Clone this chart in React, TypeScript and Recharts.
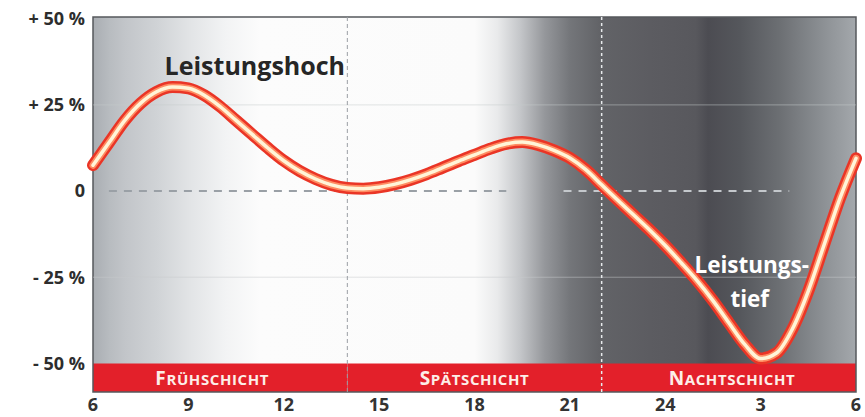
import React from 'react';
import { LineChart, Line, XAxis, YAxis, CartesianGrid, ReferenceArea, ReferenceLine, ReferenceDot } from 'recharts';

// ---- data ----
const hours = [0,0.5,1,1.5,2,2.5,3,3.5,4,4.5,5,5.5,6,6.5,7,7.5,8,8.5,9,9.5,10,10.5,11,11.5,12,12.5,13,13.5,14,14.5,15,15.5,16,16.5,17,17.5,18,18.5,19,19.5,20,20.5,21,21.5,22,22.5,23,23.5,24];
const performance = [7.5,14,20.5,25.5,28.8,30.2,29.8,27.8,24.5,20.5,16.5,12.5,8.8,5.8,3.5,1.8,0.9,0.7,1.1,2,3.3,4.9,6.8,8.7,10.5,12.3,13.7,14.2,13.4,11.8,9.6,6.2,1.8,-2.6,-6.9,-11.2,-15.8,-20.8,-26,-31.8,-38.2,-44.5,-48.6,-47,-40,-29,-15.5,-2,9.5];

const xTicks = [0,3,6,9,12,15,18,21,24];
const xTickLabels = ['6','9','12','15','18','21','24','3','6'];
const yTicks = [-50,-25,0,25,50];
const yTickLabels = ['- 50 %','- 25 %','0','+ 25 %','+ 50 %'];

const shiftNames = ['Frühschicht','Spätschicht','Nachtschicht'];
const shiftStart = [0,8,16];
const shiftEnd = [8,16,24];
const shiftLabelAt = [3.75,12,20.1];

const Y_MIN = -58.3;
const Y_MAX = 50.5;

const data = hours.map((h, i) => ({ h, v: performance[i] }));

const FONT = '"Open Sans", "Noto Sans", sans-serif';

const XTick = (props: any) => {
  const { x, payload } = props;
  return (
    <text x={x} y={411} textAnchor="middle" fontFamily={FONT} fontWeight={700} fontSize={18} fill="#333">
      {xTickLabels[xTicks.indexOf(payload.value)]}
    </text>
  );
};

export default function App() {
  const plotLeft = 93;
  const plotRight = 856;
  const pxPerHour = (plotRight - plotLeft) / 24;
  return (
    <div style={{ position: 'fixed', left: 0, top: 0, width: 865, height: 417, background: '#fff' }}>
      <svg width={0} height={0} style={{ position: 'absolute' }}>
        <defs>
          <linearGradient id="bgGrad" x1="0" y1="0" x2="1" y2="0">
            <stop offset="0" stopColor="#a9adb2" />
            <stop offset="0.022" stopColor="#b8bcc0" />
            <stop offset="0.042" stopColor="#c2c5c9" />
            <stop offset="0.084" stopColor="#d0d3d6" />
            <stop offset="0.127" stopColor="#e2e4e6" />
            <stop offset="0.173" stopColor="#f2f3f4" />
            <stop offset="0.219" stopColor="#fcfcfc" />
            <stop offset="0.5" stopColor="#fbfbfb" />
            <stop offset="0.53" stopColor="#e9eaeb" />
            <stop offset="0.56" stopColor="#c4c6c9" />
            <stop offset="0.592" stopColor="#95979b" />
            <stop offset="0.625" stopColor="#74767a" />
            <stop offset="0.664" stopColor="#626367" />
            <stop offset="0.73" stopColor="#5c5c61" />
            <stop offset="0.79" stopColor="#58585d" />
            <stop offset="0.806" stopColor="#4c4c52" />
            <stop offset="0.848" stopColor="#55575c" />
            <stop offset="0.9" stopColor="#6c6f73" />
            <stop offset="0.953" stopColor="#8a8e92" />
            <stop offset="1" stopColor="#a4a8ac" />
          </linearGradient>
        </defs>
      </svg>
      <LineChart width={865} height={417} data={data} margin={{ top: 17, right: 9, bottom: 0, left: 0 }}>
        <XAxis
          dataKey="h"
          type="number"
          domain={[0, 24]}
          ticks={xTicks}
          axisLine={false}
          tickLine={false}
          height={25}
          tick={<XTick />}
          interval={0}
        />
        <YAxis
          type="number"
          domain={[Y_MIN, Y_MAX]}
          ticks={yTicks}
          tickFormatter={(v: number) => yTickLabels[yTicks.indexOf(v)]}
          axisLine={false}
          tickLine={false}
          width={93}
          tick={{ fontSize: 18, fontWeight: 700, fill: '#2d2d2d', fontFamily: FONT }}
          interval={0}
        />
        <ReferenceArea x1={0} x2={24} y1={Y_MIN} y2={Y_MAX} fill="url(#bgGrad)" fillOpacity={1} stroke="none" />
        <CartesianGrid horizontal={false} vertical stroke="#b4b8bc" strokeOpacity={0.55} verticalPoints={hours.filter((h) => Number.isInteger(h) && h > 0 && h < 24).map((h) => plotLeft + h * pxPerHour)} />
        <ReferenceLine y={25} stroke="#c8cbce" strokeOpacity={0.5} />
        <ReferenceLine y={-25} stroke="#c8cbce" strokeOpacity={0.5} />
        <ReferenceLine segment={[{ x: 0.5, y: 0 }, { x: 13, y: 0 }]} stroke="#9aa0a6" strokeWidth={2} strokeDasharray="8 7" />
        <ReferenceLine segment={[{ x: 14.8, y: 0 }, { x: 21.9, y: 0 }]} stroke="#c4c8cc" strokeWidth={2} strokeDasharray="8 7" />
        {shiftNames.map((name, i) => (
          <ReferenceArea
            key={name}
            x1={shiftStart[i]}
            x2={shiftEnd[i]}
            y1={Y_MIN}
            y2={-50}
            fill="#e3202a"
            fillOpacity={1}
            stroke="none"
            label={(p: any) => {
              const vb = p.viewBox || {};
              const up = name.toUpperCase();
              return (
                <text
                  x={plotLeft + shiftLabelAt[i] * pxPerHour}
                  y={(vb.y || 0) + (vb.height || 0) - 7}
                  textAnchor="middle"
                  fill="#fdeee8"
                  fontFamily={FONT}
                  fontWeight={700}
                  letterSpacing={0.6}
                >
                  <tspan fontSize={19}>{up[0]}</tspan>
                  <tspan fontSize={15}>{up.slice(1)}</tspan>
                </text>
              );
            }}
          />
        ))}
        <ReferenceLine x={8} stroke="#9a9ea4" strokeWidth={1} strokeDasharray="4 3" />
        <ReferenceLine x={16} stroke="#e8eaec" strokeWidth={1.5} strokeDasharray="3 3" />
        <ReferenceArea x1={0} x2={24} y1={Y_MIN} y2={Y_MAX} fill="none" stroke="#55585c" strokeWidth={1.5} />
        <Line type="monotone" dataKey="v" stroke="#ea3526" strokeWidth={12} dot={false} isAnimationActive={false} strokeLinecap="round" />
        <Line type="monotone" dataKey="v" stroke="#ff8c62" strokeWidth={7} dot={false} isAnimationActive={false} strokeLinecap="round" />
        <Line type="monotone" dataKey="v" stroke="#fff5d8" strokeWidth={3.5} dot={false} isAnimationActive={false} strokeLinecap="round" />
        <ReferenceDot
          x={5.09}
          y={33.65}
          r={0}
          fill="none"
          stroke="none"
          label={(p: any) => {
            const vb = p.viewBox || {};
            return (
              <text x={vb.x} y={vb.y} textAnchor="middle" fontFamily={FONT} fontWeight={700} fontSize={25} fill="#262626">
                Leistungshoch
              </text>
            );
          }}
        />
        <ReferenceDot
          x={20.72}
          y={-23.8}
          r={0}
          fill="none"
          stroke="none"
          label={(p: any) => {
            const vb = p.viewBox || {};
            return (
              <text x={vb.x} y={vb.y} textAnchor="middle" fontFamily={FONT} fontWeight={700} fontSize={22.5} fill="#ffffff">
                <tspan x={vb.x}>Leistungs-</tspan>
                <tspan x={vb.x - 2} dy={34}>tief</tspan>
              </text>
            );
          }}
        />
      </LineChart>
    </div>
  );
}
